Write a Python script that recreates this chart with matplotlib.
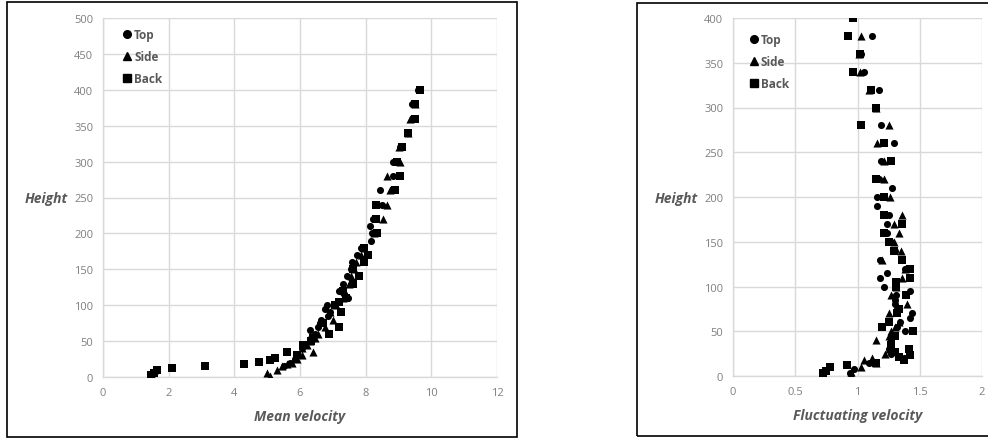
import matplotlib
matplotlib.use("Agg")
import matplotlib.pyplot as plt
from matplotlib.patches import Rectangle
from matplotlib.lines import Line2D

# ---------------- data ----------------
top_h = [3, 8, 15, 20, 25, 30, 40, 45, 50, 55, 60, 65, 70, 75, 80, 85, 90, 95, 100,
         110, 115, 120, 130, 140, 150, 160, 170, 180, 190, 200, 210, 220, 240, 260,
         280, 300, 320, 340, 360, 380, 400]
top_mean = [1.5, 1.62, 5.5, 5.7, 5.85, 5.9, 6.05, 6.15, 6.3, 6.35, 6.45, 6.3, 6.55, 6.6,
            6.65, 6.85, 6.9, 6.75, 6.82, 7.45, 7.35, 7.18, 7.3, 7.43, 7.55, 7.58, 7.74,
            7.85, 8.15, 8.2, 8.14, 8.22, 8.5, 8.45, 8.83, 8.83, 9.05, 9.3, 9.45, 9.42, 9.6]
top_fluct = [0.94, 0.97, 1.09, 1.375, 1.27, 1.25, 1.27, 1.28, 1.38, 1.32, 1.34, 1.42, 1.435,
             1.32, 1.3, 1.3, 1.31, 1.42, 1.21, 1.18, 1.235, 1.38, 1.18, 1.3, 1.27, 1.24,
             1.235, 1.25, 1.16, 1.16, 1.28, 1.17, 1.19, 1.29, 1.19, 1.15, 1.17, 1.055,
             1.03, 1.12, 0.953]

side_h = [2, 5, 10, 15, 18, 20, 25, 30, 35, 40, 45, 50, 55, 60, 70, 80, 90, 100, 110,
          120, 130, 140, 150, 160, 170, 180, 200, 220, 240, 260, 280, 300, 320, 340,
          360, 380]
side_mean = [5.1, 5.0, 5.3, 5.45, 5.6, 5.75, 5.9, 6.05, 6.4, 6.05, 6.2, 6.3, 6.45, 6.55,
             6.75, 7.0, 6.9, 7.1, 7.3, 7.35, 7.5, 7.55, 7.63, 7.7, 7.85, 7.95, 8.25,
             8.53, 8.65, 8.73, 8.65, 9.05, 9.0, 9.3, 9.35, 9.5]
side_fluct = [0.95, 0.95, 1.03, 1.146, 1.05, 1.12, 1.22, 1.25, 1.27, 1.146, 1.25, 1.27,
              1.3, 1.33, 1.25, 1.395, 1.27, 1.31, 1.355, 1.38, 1.2, 1.35, 1.29, 1.33,
              1.29, 1.36, 1.26, 1.21, 1.21, 1.155, 1.25, 1.15, 1.09, 1.02, 1.01, 1.03]

back_h = [3, 6, 10, 12, 15, 18, 21, 24, 27, 30, 35, 45, 50, 55, 60, 70, 75, 90, 100,
          105, 110, 120, 130, 140, 150, 160, 170, 180, 200, 220, 240, 260, 280, 300,
          320, 340, 360, 380, 400]
back_mean = [1.45, 1.55, 1.65, 2.1, 3.1, 4.3, 4.75, 5.1, 5.25, 5.9, 5.6, 6.1, 6.35, 6.4,
             6.87, 7.2, 6.7, 7.25, 7.08, 7.2, 7.4, 7.3, 7.61, 7.8, 7.6, 7.94, 8.06, 7.95,
             8.35, 8.3, 8.3, 8.9, 9.05, 8.95, 9.1, 9.28, 9.49, 9.51, 9.65]
back_fluct = [0.725, 0.75, 0.78, 0.913, 1.15, 1.375, 1.33, 1.42, 1.3, 1.41, 1.27, 1.3,
              1.445, 1.2, 1.256, 1.32, 1.33, 1.39, 1.31, 1.31, 1.42, 1.42, 1.36, 1.29,
              1.25, 1.21, 1.36, 1.21, 1.215, 1.15, 1.27, 1.21, 1.03, 1.15, 1.11, 0.96,
              1.02, 0.92, 0.96]

series_names = ["Top", "Side", "Back"]
left_xticks = [0, 2, 4, 6, 8, 10, 12]
left_yticks = [0, 50, 100, 150, 200, 250, 300, 350, 400, 450, 500]
right_xticks = [0, 0.5, 1, 1.5, 2]
right_xlabels = ["0", "0.5", "1", "1.5", "2"]
right_yticks = [0, 50, 100, 150, 200, 250, 300, 350, 400]

# ---------------- style ----------------
plt.rcParams['font.family'] = ['Open Sans', 'DejaVu Sans']
TICK_C = "#7f7f7f"
LAB_C = "#595959"
GRID_C = "#d9d9d9"
W, H = 988, 439

fig = plt.figure(figsize=(W / 100, H / 100), dpi=100)

def fx(px):
    return px / W

def fy(py):
    return 1 - py / H

# outer frames
fig.patches.append(Rectangle((fx(7), fy(438)), fx(510), (435) / H, transform=fig.transFigure,
                             fill=False, edgecolor="black", linewidth=1.2))
fig.patches.append(Rectangle((fx(637), fy(437)), fx(360), (433) / H, transform=fig.transFigure,
                             fill=False, edgecolor="black", linewidth=1.2))

markers = {"Top": "o", "Side": "^", "Back": "s"}
sizes = {"Top": 26, "Side": 34, "Back": 26}

def style_axes(ax, xticks, xlabels, yticks, xlim, ylim, xlabel):
    ax.set_xlim(*xlim)
    ax.set_ylim(*ylim)
    ax.set_xticks(xticks)
    ax.set_xticklabels(xlabels)
    ax.set_yticks(yticks)
    ax.grid(True, color=GRID_C, linewidth=1.0)
    ax.set_axisbelow(True)
    for s in ["top", "right"]:
        ax.spines[s].set_visible(False)
    for s in ["left", "bottom"]:
        ax.spines[s].set_color(GRID_C)
        ax.spines[s].set_linewidth(1.0)
    ax.tick_params(length=0, labelsize=8, colors=TICK_C, pad=7)
    ax.set_xlabel(xlabel, fontsize=10, fontweight="bold", fontstyle="italic",
                  color=LAB_C, labelpad=8)

def add_legend(ax, anchor):
    handles = [Line2D([], [], linestyle="none", marker=markers[n], color="black",
                      markersize=5.5 if n != "Side" else 6.0) for n in series_names]
    leg = ax.legend(handles, series_names, loc="upper left", bbox_to_anchor=anchor,
                    frameon=False, handlelength=0.6, handletextpad=0.3,
                    labelspacing=0.75, borderaxespad=0, prop={"size": 8.5, "weight": "bold"})
    for t in leg.get_texts():
        t.set_color(LAB_C)

# left panel
ax1 = fig.add_axes([fx(103), fy(378), fx(394), 359 / H])
for n, h, v in [("Top", top_h, top_mean), ("Side", side_h, side_mean), ("Back", back_h, back_mean)]:
    ax1.scatter(v, h, marker=markers[n], s=sizes[n], color="black", linewidths=0, zorder=3)
style_axes(ax1, left_xticks, [str(t) for t in left_xticks], left_yticks, (0, 12), (0, 500),
           "Mean velocity")
ax1.text(fx(68), fy(199), "Height", transform=fig.transFigure, ha="right", va="center",
         fontsize=10, fontweight="bold", fontstyle="italic", color=LAB_C)
add_legend(ax1, (0.04, 0.985))

# right panel
ax2 = fig.add_axes([fx(733), fy(377), fx(249), 358 / H])
for n, h, v in [("Top", top_h, top_fluct), ("Side", side_h, side_fluct), ("Back", back_h, back_fluct)]:
    ax2.scatter(v, h, marker=markers[n], s=sizes[n], color="black", linewidths=0, zorder=3)
style_axes(ax2, right_xticks, right_xlabels, right_yticks, (0, 2), (0, 400),
           "Fluctuating velocity")
ax2.text(fx(698), fy(199), "Height", transform=fig.transFigure, ha="right", va="center",
         fontsize=10, fontweight="bold", fontstyle="italic", color=LAB_C)
add_legend(ax2, (0.05, 0.97))

fig.savefig("out.png", dpi=100)
